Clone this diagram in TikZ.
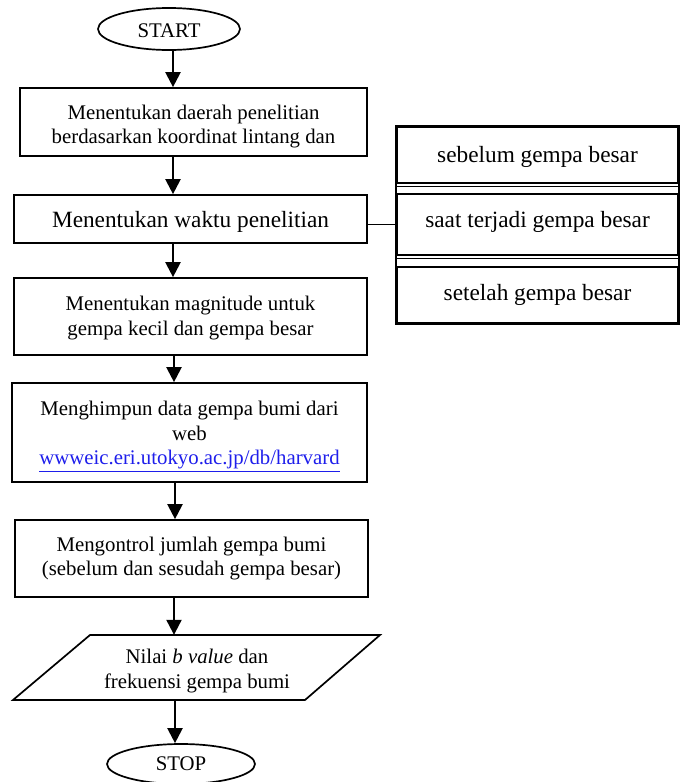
\documentclass[tikz,border=0pt]{standalone}
\usepackage{fontspec}
\setmainfont{Liberation Serif}
\usetikzlibrary{arrows.meta,shapes.geometric}
\begin{document}
\begin{tikzpicture}[x=1pt,y=-1pt,
  every node/.style={font=\fontsize{20.8}{24.5}\selectfont},
  box/.style={draw,line width=1.7pt,rectangle,inner sep=0pt},
  txt/.style={align=center,inner sep=0pt},
  term/.style={draw,line width=1.7pt,ellipse,inner sep=0pt},
  big/.style={font=\fontsize{23.3}{27}\selectfont},
  arr/.style={line width=2.2pt,-{Triangle[width=15pt,length=15pt]}},
  conn/.style={line width=1.7pt}]
\useasboundingbox (0,0) rectangle (680,782);
\coordinate (spine) at (173,0);
% main column
\node[term,minimum width=142pt,minimum height=42pt] (start) at (169,29) {};
\node[txt] (startt) at (169,31) {START};
\node[box,minimum width=347pt,minimum height=68pt] (b1) at (193.5,122) {};
\node[txt] (b1t) at ([yshift=-4.5pt]b1.center)
  {Menentukan daerah penelitian\\berdasarkan koordinat lintang dan};
\node[box,minimum width=353pt,minimum height=48pt] (b2) at (190.5,219) {};
\node[txt,big] (b2t) at ([yshift=-3pt]b2.center) {Menentukan waktu penelitian};
\node[box,minimum width=353pt,minimum height=77pt] (b3) at (190.5,316.5) {};
\node[txt] (b3t) at ([yshift=-1.5pt]b3.center)
  {Menentukan magnitude untuk\\gempa kecil dan gempa besar};
\node[box,minimum width=355pt,minimum height=99pt] (b4) at (189.5,432.5) {};
\node[txt] (b4t) at ([yshift=-4pt]b4.center)
  {Menghimpun data gempa bumi dari\\web\\{\color[RGB]{30,30,235}\underline{wwweic.eri.utokyo.ac.jp/db/harvard}}};
\node[box,minimum width=353pt,minimum height=77pt] (b5) at (191.5,558.5) {};
\node[txt] (b5t) at (b5.center)
  {Mengontrol jumlah gempa bumi\\(sebelum dan sesudah gempa besar)};
% parallelogram
\node[minimum width=367pt,minimum height=65pt,inner sep=0pt] (para) at (196.5,667.5) {};
\draw[line width=1.7pt] (90,635) coordinate (p1) -- (380,635) coordinate (p2)
  -- (305,700) coordinate (p3) -- (13,700) coordinate (p4) -- cycle;
\node[txt] (parat) at (197,671)
  {Nilai \textit{b value} dan\\frekuensi gempa bumi};
\node[term,minimum width=148pt,minimum height=40pt] (stop) at (181,764) {};
\node[txt] (stopt) at (181,764) {STOP};
% arrows
\draw[arr] (start.south -| spine) -- (b1.north -| spine);
\draw[arr] (b1.south -| spine) -- (b2.north -| spine);
\draw[arr] (b2.south -| spine) -- (b3.north -| spine);
\draw[arr] ([xshift=1pt]b3.south -| spine) -- ([xshift=1pt]b4.north -| spine);
\draw[arr] ([xshift=2pt]b4.south -| spine) -- ([xshift=2pt]b5.north -| spine);
\draw[arr] ([xshift=1pt]b5.south -| spine) -- ([xshift=1pt]para.north -| spine);
\draw[arr] ([xshift=2pt]para.south -| spine) -- ([xshift=2pt]stop.north -| spine);
% right side boxes
\node[box,minimum width=281pt,minimum height=56pt] (ra) at (537.5,155) {};
\node[txt,big] (rat) at (537.5,157) {sebelum gempa besar};
\node[box,minimum width=281pt,minimum height=61pt] (rb) at (537.5,224.5) {};
\node[txt,big] (rbt) at (537.5,222) {saat terjadi gempa besar};
\node[box,minimum width=281pt,minimum height=56pt] (rc) at (537.5,295) {};
\node[txt,big] (rct) at (537.5,295) {setelah gempa besar};
\draw[line width=1.7pt] (ra.north west) rectangle (rc.south east);
\draw[line width=1pt] ([yshift=-2.5pt]ra.south west) -- ([yshift=-2.5pt]ra.south east);
\draw[line width=1pt] ([yshift=-2.5pt]rb.south west) -- ([yshift=-2.5pt]rb.south east);
\draw[conn] (rb.west -| b2.east) -- (rb.west);
\end{tikzpicture}
\end{document}
